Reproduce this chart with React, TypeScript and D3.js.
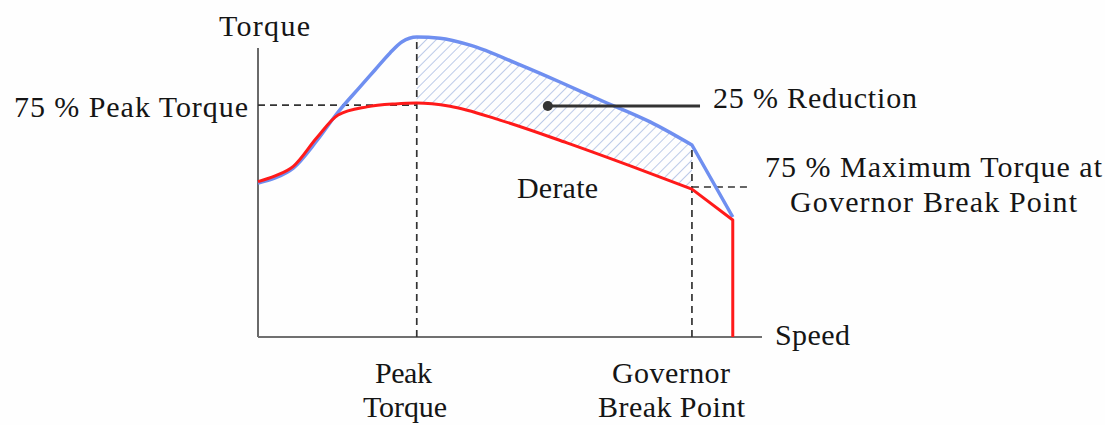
import React from "react";
import * as d3 from "d3";

// Speed (0-100, axis end = 100) and torque (0-100, peak = 100)
const fullSpeed = [0, 3.4, 7, 11.7, 15.9, 20.2, 23.2, 26.2, 28.6, 31.5, 36.1, 42.1, 52, 59.9, 67.9, 77.8, 86.1, 94.2];
const fullTorque = [51.3, 53, 56.3, 65.5, 75, 83.3, 89, 94.7, 98.4, 100, 99.6, 97.3, 90.7, 85, 79, 71.7, 64, 40];

const derateSpeed = [0, 3.4, 7, 11.7, 15.9, 21.6, 27.2, 31.5, 38.1, 48, 61.3, 74.4, 86.1, 94.2, 94.2];
const derateTorque = [51.8, 53.7, 56.9, 66.5, 74, 76.7, 77.7, 78, 76.9, 72.3, 64.7, 56.7, 49.3, 39, 0];

const peakSpeed = 31.5;
const governorSpeed = 86.1;
const peakTorque = 100;
const governorTorque = 64;
const peakLevel75 = 77.3;
const governorLevel75 = 50;
const governorDashEnd = 98;
const axisSpeedMax = 100;
const axisTorqueMax = 96.3;
const reductionPoint = [57.5, 77];
const reductionLineEnd = 87.7;

const axisTitleY = "Torque";
const axisTitleX = "Speed";
const peakLabel = ["Peak", "Torque"];
const governorLabel = ["Governor", "Break Point"];
const peak75Label = "75 % Peak Torque";
const reductionLabel = "25 % Reduction";
const derateLabel = "Derate";
const governor75Label = ["75 % Maximum Torque at", "Governor Break Point"];

const W = 1105;
const H = 425;

export default function App() {
  const x = d3.scaleLinear().domain([0, 100]).range([258, 762]);
  const y = d3.scaleLinear().domain([0, 100]).range([337, 37]);

  const full = fullSpeed.map((s, i) => [s, fullTorque[i]] as [number, number]);
  const derate = derateSpeed.map((s, i) => [s, derateTorque[i]] as [number, number]);

  const smooth = d3
    .line<[number, number]>()
    .x((d) => x(d[0]))
    .y((d) => y(d[1]))
    .curve(d3.curveMonotoneX);
  const straight = d3
    .line<[number, number]>()
    .x((d) => x(d[0]))
    .y((d) => y(d[1]))
    .curve(d3.curveLinear);

  // smooth up to the governor break point, straight segments after it
  const split = (pts: [number, number][]) => {
    const a = pts.filter((d) => d[0] <= governorSpeed);
    const b = pts.filter((d) => d[0] >= governorSpeed);
    return (smooth(a) || "") + (straight(b) || "").replace(/^M/, "L");
  };

  const topPart = full.filter((d) => d[0] >= peakSpeed && d[0] <= governorSpeed);
  const botPart = derate.filter((d) => d[0] >= peakSpeed && d[0] <= governorSpeed && d[1] > 0);
  const botReversed = botPart.slice().reverse();
  const botPath = (smooth(botPart.map((d) => [-d[0], d[1]] as [number, number]).reverse()) || "");
  // build the hatch polygon: top curve forward, bottom curve backward
  const smoothRev = d3
    .line<[number, number]>()
    .x((d) => x(d[0]))
    .y((d) => y(d[1]))
    .curve(d3.curveMonotoneY);
  void botPath;
  void smoothRev;
  const hatchPath =
    (smooth(topPart) || "") +
    (straight(botReversed) || "").replace(/^M/, "L") +
    "Z";

  const font = "Liberation Serif";
  const dash = "7,5";
  const dashColor = "#333";

  const T = (txt: string, x0: number, yb: number, len: number, size = 30) => (
    <text
      x={x0}
      y={yb}
      fontFamily={font}
      fontSize={size}
      fill="#151515"
      textLength={len}
      lengthAdjust="spacing"
    >
      {txt}
    </text>
  );

  return (
    <svg
      width={W}
      height={H}
      style={{ position: "absolute", left: 0, top: 0, background: "#fefefe" }}
    >
      <defs>
        <pattern
          id="hatch"
          width={7}
          height={7}
          patternUnits="userSpaceOnUse"
          patternTransform="rotate(45)"
        >
          <line x1={0} y1={0} x2={0} y2={7} stroke="#bccae8" strokeWidth={2} />
        </pattern>
      </defs>

      <path d={hatchPath} fill="url(#hatch)" stroke="none" />

      {/* axes */}
      <line x1={x(0)} x2={x(0)} y1={y(0)} y2={y(axisTorqueMax)} stroke="#6a6a6a" strokeWidth={2} />
      <line x1={x(0)} x2={x(axisSpeedMax)} y1={y(0)} y2={y(0)} stroke="#707070" strokeWidth={2} />

      {/* dashed guides */}
      <line x1={x(peakSpeed)} x2={x(peakSpeed)} y1={y(0)} y2={y(peakTorque)} stroke={dashColor} strokeWidth={1.7} strokeDasharray={dash} />
      <line x1={x(0)} x2={x(peakSpeed)} y1={y(peakLevel75)} y2={y(peakLevel75)} stroke={dashColor} strokeWidth={1.7} strokeDasharray={dash} />
      <line x1={x(governorSpeed)} x2={x(governorSpeed)} y1={y(0)} y2={y(governorTorque)} stroke={dashColor} strokeWidth={1.7} strokeDasharray={dash} />
      <line x1={x(governorSpeed)} x2={x(governorDashEnd)} y1={y(governorLevel75)} y2={y(governorLevel75)} stroke={dashColor} strokeWidth={1.7} strokeDasharray={dash} />

      {/* curves */}
      <path d={split(full)} fill="none" stroke="#6f8ff0" strokeWidth={3.5} strokeLinejoin="round" />
      <path d={split(derate)} fill="none" stroke="#ff1a1a" strokeWidth={3} strokeLinejoin="round" />

      {/* reduction pointer */}
      <line x1={x(reductionPoint[0])} x2={x(reductionLineEnd)} y1={y(reductionPoint[1])} y2={y(reductionPoint[1])} stroke="#333" strokeWidth={3} />
      <circle cx={x(reductionPoint[0])} cy={y(reductionPoint[1])} r={5} fill="#333" />

      {/* texts */}
      {T(axisTitleY, 219, 36, 91)}
      {T(peak75Label, 14, 117, 234)}
      {T(reductionLabel, 713, 108, 204)}
      {T(derateLabel, 517, 198, 81)}
      {T(governor75Label[0], 765, 177, 337)}
      {T(governor75Label[1], 790, 212, 287)}
      {T(axisTitleX, 775, 345, 75)}
      {T(peakLabel[0], 375, 383, 57)}
      {T(peakLabel[1], 363, 417, 84)}
      {T(governorLabel[0], 612, 383, 118)}
      {T(governorLabel[1], 598, 417, 147)}
    </svg>
  );
}
